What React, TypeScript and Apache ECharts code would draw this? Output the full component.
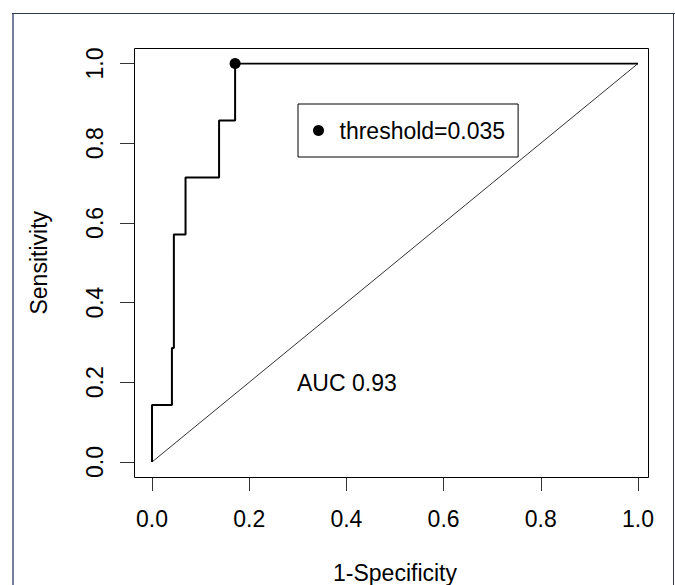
import React, { useEffect, useRef } from "react";
import * as echarts from "echarts";

// ROC curve (1-Specificity, Sensitivity)
const rocFpr = [0, 0, 0.041, 0.041, 0.045, 0.045, 0.069, 0.069, 0.138, 0.138, 0.171, 0.171, 1.0];
const rocTpr = [0, 0.143, 0.143, 0.286, 0.286, 0.571, 0.571, 0.714, 0.714, 0.857, 0.857, 1.0, 1.0];
// chance diagonal
const diagX = [0, 1];
const diagY = [0, 1];
// best threshold point
const thresholdPoint = [0.171, 1.0];
const thresholdLabel = "threshold=0.035";
const aucLabel = "AUC 0.93";
const xAxisTitle = "1-Specificity";
const yAxisTitle = "Sensitivity";
const tickValues = [0, 0.2, 0.4, 0.6, 0.8, 1.0];

const FONT = "'Liberation Sans', Arial, sans-serif";
const FS = 23;

export default function App() {
  const ref = useRef<HTMLDivElement>(null);

  useEffect(() => {
    if (!ref.current) return;
    const chart = echarts.init(ref.current, null, { renderer: "svg" });
    const tickMin = tickValues[0];
    const tickMax = tickValues[tickValues.length - 1];
    const tickStep = tickValues[1] - tickValues[0];

    const option: any = {
      animation: false,
      backgroundColor: "#ffffff",
      textStyle: { fontFamily: FONT },
      grid: {
        left: 152,
        right: 37,
        top: 63.5,
        bottom: 123,
        containLabel: false,
        outerBoundsMode: "none",
      },
      legend: {
        show: true,
        data: [{ name: thresholdLabel, icon: "circle" }],
        left: 298,
        top: 104,
        orient: "vertical",
        itemWidth: 32,
        itemHeight: 11,
        padding: [15, 13, 15, 15],
        borderColor: "#000",
        borderWidth: 1,
        borderRadius: 0,
        backgroundColor: "#fff",
        selectedMode: false,
        textStyle: { fontFamily: FONT, fontSize: FS, color: "#000" },
      },
      xAxis: {
        type: "value",
        min: tickMin,
        max: tickMax,
        interval: tickStep,
        offset: 15,
        axisLine: { show: true, onZero: false, lineStyle: { color: "#000", width: 1 } },
        axisTick: { show: true, length: 14, inside: false, lineStyle: { color: "#333", width: 1 } },
        axisLabel: {
          margin: 30,
          fontSize: FS,
          color: "#000",
          fontFamily: FONT,
          formatter: (v: number) => v.toFixed(1),
        },
        splitLine: { show: false },
        name: xAxisTitle,
        nameLocation: "middle",
        nameGap: 84,
        nameTextStyle: { fontSize: FS, color: "#000", fontFamily: FONT },
      },
      yAxis: {
        type: "value",
        min: tickMin,
        max: tickMax,
        interval: tickStep,
        offset: 18,
        axisLine: { show: true, onZero: false, lineStyle: { color: "#000", width: 1 } },
        axisTick: { show: true, length: 14, inside: false, lineStyle: { color: "#333", width: 1 } },
        axisLabel: {
          margin: 28,
          rotate: 90,
          fontSize: FS,
          color: "#000",
          fontFamily: FONT,
          formatter: (v: number) => v.toFixed(1),
        },
        splitLine: { show: false },
        name: yAxisTitle,
        nameLocation: "middle",
        nameRotate: 90,
        nameGap: 84,
        nameTextStyle: { fontSize: FS, color: "#000", fontFamily: FONT },
      },
      series: [
        {
          type: "line",
          name: "diagonal",
          data: diagX.map((x, i) => [x, diagY[i]]),
          symbol: "none",
          lineStyle: { color: "#333", width: 1 },
          silent: true,
          z: 1,
        },
        {
          type: "line",
          name: "roc",
          data: rocFpr.map((x, i) => [x, rocTpr[i]]),
          symbol: "none",
          lineStyle: { color: "#000", width: 2 },
          silent: true,
          z: 2,
        },
        {
          type: "scatter",
          name: thresholdLabel,
          data: [thresholdPoint],
          symbol: "circle",
          symbolSize: 11,
          itemStyle: { color: "#000", opacity: 1 },
          z: 3,
        },
      ],
      graphic: [
        // outer frame
        { type: "line", shape: { x1: 13, y1: 13, x2: 13, y2: 585 }, style: { stroke: "#76809a", lineWidth: 2 } },
        { type: "line", shape: { x1: 12, y1: 13.5, x2: 675, y2: 13.5 }, style: { stroke: "#2f3950", lineWidth: 1 } },
        { type: "line", shape: { x1: 673.5, y1: 13, x2: 673.5, y2: 585 }, style: { stroke: "#2f3950", lineWidth: 1 } },
        // plot box
        {
          type: "rect",
          shape: { x: 134.5, y: 48.5, width: 514, height: 429 },
          style: { fill: "none", stroke: "#000", lineWidth: 1 },
          silent: true,
          z: 10,
        },
        {
          type: "text",
          x: 297,
          y: 383,
          style: {
            text: aucLabel,
            fontSize: FS,
            fontFamily: FONT,
            fill: "#000",
            verticalAlign: "middle",
            align: "left",
          },
        },
      ],
    };
    chart.setOption(option);
    return () => chart.dispose();
  }, []);

  return (
    <div
      ref={ref}
      style={{ position: "absolute", left: 0, top: 0, width: 675, height: 585, background: "#fff" }}
    />
  );
}
